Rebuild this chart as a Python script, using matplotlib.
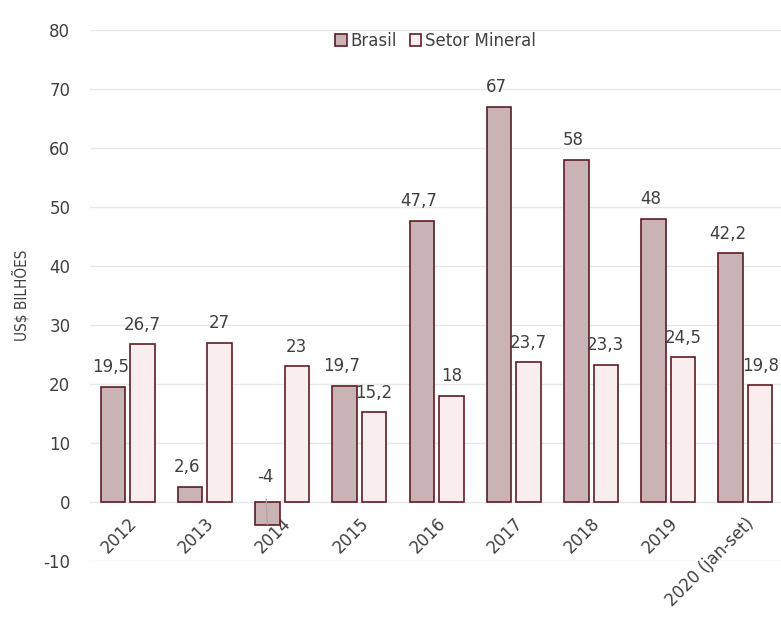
import matplotlib
matplotlib.use("Agg")
import matplotlib.pyplot as plt
import numpy as np

plt.rcParams['font.family'] = ['DejaVu Sans']
plt.rcParams['axes.unicode_minus'] = False

anos = ['2012', '2013', '2014', '2015', '2016', '2017', '2018', '2019', '2020 (jan-set)']
brasil = [19.5, 2.6, -4, 19.7, 47.7, 67, 58, 48, 42.2]
setor_mineral = [26.7, 27, 23, 15.2, 18, 23.7, 23.3, 24.5, 19.8]

cor_texto = '#404040'
cor_borda = '#5e1c22'

def fmt(v):
	s = ('%.1f' % v).rstrip('0').rstrip('.')
	return s.replace('.', ',')

fig = plt.figure(figsize=(7.81, 6.17), dpi=100)
ax = fig.add_axes([0.115, 0.091, 0.885, 0.860])

x = np.arange(len(anos))
w = 0.317
d = 0.191
ax.bar(x - d, brasil, w, color='#c9b3b5', edgecolor=cor_borda, linewidth=1.2, label='Brasil', zorder=3)
ax.bar(x + d, setor_mineral, w, color='#f9eded', edgecolor=cor_borda, linewidth=1.2, label='Setor Mineral', zorder=3)

# rotulos de dados
for i, v in enumerate(brasil):
	if v < 0:
		ax.annotate(fmt(v), xy=(x[i] - d, v * 0.95), xytext=(x[i] - d - 0.03, 4.2),
					textcoords='data', ha='center', va='center', fontsize=12, color=cor_texto,
					arrowprops=dict(arrowstyle='-', color='#a8a8a8', lw=0.9, shrinkA=7, shrinkB=0), zorder=4)
	else:
		ax.annotate(fmt(v), xy=(x[i] - d, v), xytext=(-2, 14), textcoords='offset points',
					ha='center', va='center', fontsize=12, color=cor_texto, zorder=4)
for i, v in enumerate(setor_mineral):
	ax.annotate(fmt(v), xy=(x[i] + d, v), xytext=(0, 14), textcoords='offset points',
				ha='center', va='center', fontsize=12, color=cor_texto, zorder=4)

# eixo de categorias cruza em zero
ax.spines['bottom'].set_position(('data', 0))
for s in ax.spines.values():
	s.set_visible(False)

ax.set_ylim(-10, 80)
ax.set_xlim(-0.49, 8.46)
ax.set_yticks(np.arange(-10, 81, 10))
ax.set_xticks(x)
ax.set_xticklabels(anos, rotation=45, ha='right', va='top', rotation_mode='anchor')
ax.tick_params(axis='both', length=0, labelsize=12, labelcolor=cor_texto)
ax.tick_params(axis='y', pad=14)
ax.tick_params(axis='x', pad=9)
ax.grid(axis='y', color='#e8e8e8', linewidth=1, zorder=0)

ax.set_ylabel('US$ BILHÕES', fontsize=11, color=cor_texto, labelpad=10, fontstretch='condensed')

ax.legend(loc='upper center', bbox_to_anchor=(0.5, 1.025), ncol=2, frameon=False, fontsize=12,
		  handlelength=0.7, handleheight=0.7, handletextpad=0.2, columnspacing=0.8, labelcolor=cor_texto)

fig.savefig('out.png', dpi=100)
